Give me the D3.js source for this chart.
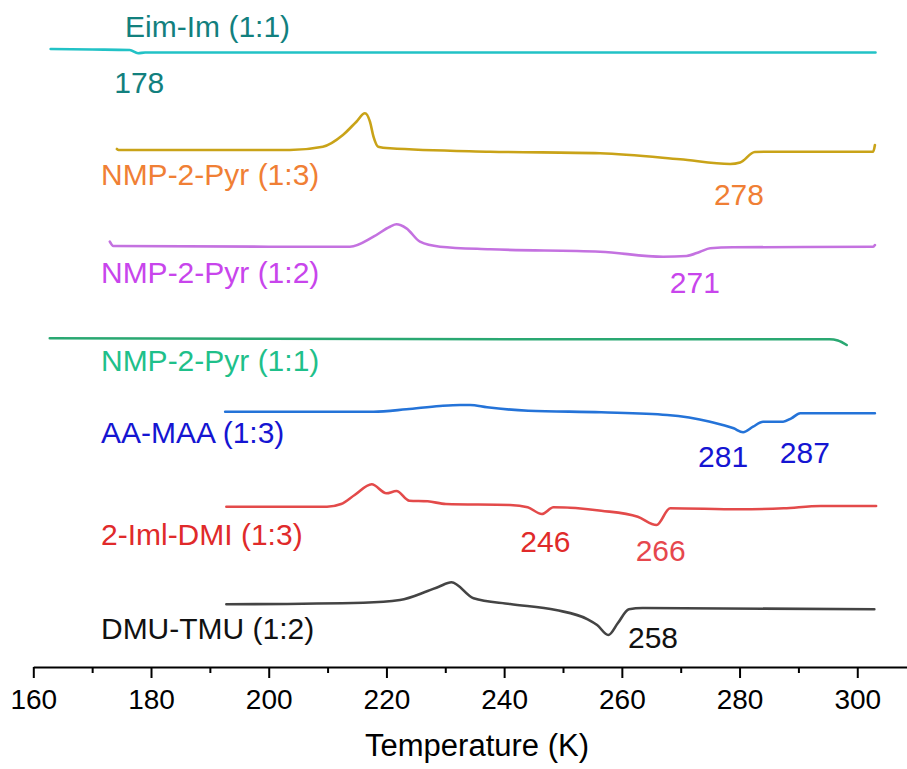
<!DOCTYPE html>
<html>
<head>
<meta charset="utf-8">
<script src="https://cdn.jsdelivr.net/npm/d3@7/dist/d3.min.js"></script>
<style>
  html, body { margin: 0; padding: 0; background: #ffffff; }
  svg { display: block; }
  text { font-family: "Liberation Sans", Arial, sans-serif; }
</style>
</head>
<body>
<svg id="chart" width="907" height="769"></svg>
<script>
// ---------------- DATA ----------------
// Temperature (K) and DSC heat-flow signal (a.u., vertically offset traces)
const seriesNames = ["Eim-Im (1:1)", "NMP-2-Pyr (1:3)", "NMP-2-Pyr (1:2)", "NMP-2-Pyr (1:1)", "AA-MAA (1:3)", "2-Iml-DMI (1:3)", "DMU-TMU (1:2)"];

const tEim = [162.95, 170, 176.4, 177.8, 179, 185, 240, 303.1];
const sEim = [618, 617.5, 617, 613.7, 614.5, 614.5, 614.5, 614.5];

const tPyr13 = [174.2, 174.5, 203.6, 209.2, 212.6, 214.9, 216.35, 217.2, 217.8, 218.6, 220.6, 237.6, 256.3, 269.9, 278.4, 280.1, 282.6, 285.2, 302.7, 303];
const sPyr13 = [518, 517, 517, 520.3, 532, 545.3, 553.7, 545.3, 530.3, 520.3, 518.7, 515.3, 513.7, 507.7, 503, 504.5, 515, 515.3, 515.3, 522];

const tPyr12 = [173.0, 173.6, 200, 213.8, 217.8, 220.6, 221.7, 223.4, 225.7, 229.1, 237.6, 256.3, 267.0, 271.0, 273.3, 275.0, 278.9, 302.7, 303.0];
const sPyr12 = [425.3, 421, 420.3, 420.3, 430.3, 440.3, 442.7, 438.7, 425.3, 420.3, 417.7, 415.3, 410.3, 411, 415.3, 418.7, 419.7, 420.3, 422];

const tPyr11 = [162.8, 200, 250, 295.3, 296.7, 298.2];
const sPyr11 = [328.7, 328.2, 327.7, 327.7, 326.5, 322];

const tAA = [192.6, 217.8, 223.4, 229.1, 232.5, 234.2, 237.1, 244.1, 256.5, 267.7, 275.0, 279.0, 280.6, 282.3, 284.0, 287.4, 288.8, 290.3, 303.0];
const sAA = [255.3, 255.3, 257.7, 261, 262, 262, 259.7, 256.3, 254.7, 252, 245.3, 238.7, 234.7, 240.3, 245.3, 245.3, 248.7, 253.7, 253.7];

const tIml = [192.8, 209.9, 212.3, 214.6, 217.5, 220, 221.7, 223.9, 227, 230.1, 241, 244, 246.4, 248.4, 256.5, 262.7, 265.9, 268.2, 279.8, 287.5, 293.8, 303.2];
const sIml = [160.3, 160.3, 163, 172, 182.7, 173.7, 176, 166.3, 165.7, 163, 162, 159.7, 153, 159.7, 156.3, 150.3, 142, 158.7, 157.7, 158.7, 161, 161];

const tDMU = [192.8, 216.1, 222.3, 227, 228.9, 231.05, 234.8, 241, 248.8, 254.2, 255.8, 257.7, 259.3, 261.2, 263.5, 302.9];
const sDMU = [62.7, 64.3, 67, 76, 80.3, 84.7, 68.7, 63, 57, 47.7, 42, 32, 43.7, 57.7, 59, 57.7];

// peak temperature annotations
const peakText = ["178", "278", "271", "281", "287", "246", "266", "258"];
const peakT    = [178, 279.9, 272.4, 277.2, 291.1, 247, 266.6, 265.3];
const peakS    = [574, 462, 374, 200, 204, 115, 106, 19];

// series name label anchor (temperature, signal)
const nameT = [175.6, 171.5, 171.5, 171.5, 171.5, 171.5, 171.5];
const nameS = [630, 482, 384, 296, 224, 122, 28];

const xMajorTicks = [160, 180, 200, 220, 240, 260, 280, 300];
const xMinorTicks = [170, 190, 210, 230, 250, 270, 290];

// ---------------- STYLE ----------------
const lineColors  = ["#22c2c6", "#c9a318", "#c472e0", "#2aa872", "#2473d8", "#e34a4a", "#444444"];
const labelColors = ["#12807e", "#f07f35", "#c845ec", "#1fc08a", "#1515d2", "#e02a2a", "#111111"];
const peakColors  = ["#12807e", "#f07f35", "#c845ec", "#1515d2", "#1515d2", "#e02a2a", "#e6474d", "#111111"];

const svg = d3.select("#chart");
const axisY = 667;
const x = d3.scaleLinear().domain([160, 308.45]).range([33.3, 907]);
const y = d3.scaleLinear().domain([0, 667]).range([667, 0]);

const series = [
  [tEim, sEim], [tPyr13, sPyr13], [tPyr12, sPyr12], [tPyr11, sPyr11],
  [tAA, sAA], [tIml, sIml], [tDMU, sDMU]
];

const line = d3.line()
  .x(d => x(d[0]))
  .y(d => y(d[1]))
  .curve(d3.curveMonotoneX);

series.forEach((s, i) => {
  const pts = s[0].map((t, k) => [t, s[1][k]]);
  svg.append("path")
    .datum(pts)
    .attr("d", line)
    .attr("fill", "none")
    .attr("stroke", lineColors[i])
    .attr("stroke-width", 2.6)
    .attr("stroke-linejoin", "round")
    .attr("stroke-linecap", "round");
});

// series labels
seriesNames.forEach((n, i) => {
  svg.append("text")
    .attr("x", x(nameT[i]))
    .attr("y", y(nameS[i]))
    .attr("font-size", 30)
    .attr("fill", labelColors[i])
    .text(n);
});

// peak labels
peakText.forEach((p, i) => {
  svg.append("text")
    .attr("x", x(peakT[i]))
    .attr("y", y(peakS[i]))
    .attr("text-anchor", "middle")
    .attr("font-size", 30)
    .attr("fill", peakColors[i])
    .text(p);
});

// x axis
const gAxis = svg.append("g").attr("transform", `translate(0,${axisY})`);
gAxis.call(d3.axisBottom(x).tickValues(xMajorTicks).tickSize(11).tickSizeOuter(0).tickFormat(d3.format("d")));
gAxis.select(".domain").attr("stroke", "#000").attr("stroke-width", 2);
gAxis.selectAll(".tick line").attr("stroke", "#000").attr("stroke-width", 2);
gAxis.selectAll(".tick text")
  .attr("y", 42).attr("dy", "0")
  .attr("font-size", 28)
  .attr("font-family", "'Liberation Sans', Arial, sans-serif")
  .attr("fill", "#000");

const gMinor = svg.append("g").attr("transform", `translate(0,${axisY})`);
gMinor.call(d3.axisBottom(x).tickValues(xMinorTicks).tickSize(6).tickSizeOuter(0).tickFormat(""));
gMinor.select(".domain").remove();
gMinor.selectAll(".tick line").attr("stroke", "#000").attr("stroke-width", 2);

svg.append("text")
  .attr("x", 477)
  .attr("y", 756)
  .attr("text-anchor", "middle")
  .attr("font-size", 31)
  .attr("fill", "#000")
  .text("Temperature (K)");
</script>
</body>
</html>
